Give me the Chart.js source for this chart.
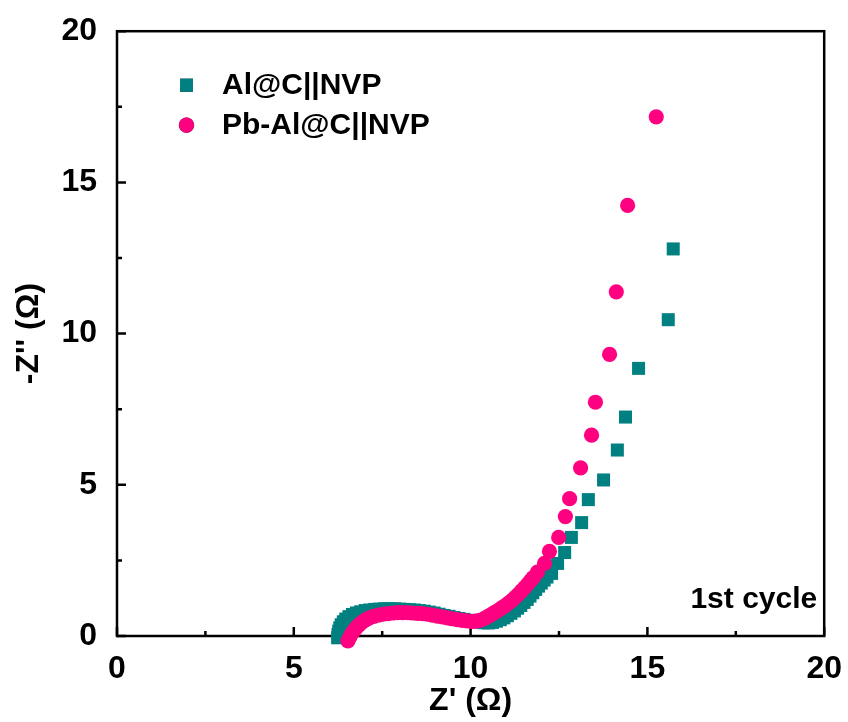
<!DOCTYPE html>
<html>
<head>
<meta charset="utf-8">
<script src="https://cdn.jsdelivr.net/npm/chart.js@4.4.0/dist/chart.umd.min.js"></script>
<style>
html, body { margin: 0; padding: 0; background: #fff; }
#wrap { width: 848px; height: 722px; }
</style>
</head>
<body>
<div id="wrap"><canvas id="eis" width="848" height="722"></canvas></div>
<script>
// series (Z' and -Z'' in ohm)
const seriesNames = ['Al@C||NVP', 'Pb-Al@C||NVP'];

const alX = [6.24, 6.25, 6.27, 6.30, 6.34, 6.40, 6.47, 6.56, 6.66, 6.77, 6.89, 7.02, 7.15, 7.29, 7.43,
  7.57, 7.71, 7.85, 7.99, 8.13, 8.27, 8.41, 8.55, 8.69, 8.83, 8.97, 9.11, 9.25, 9.39, 9.53,
  9.67, 9.81, 9.95, 10.09, 10.23, 10.37, 10.50, 10.62, 10.73, 10.84, 10.94, 11.04, 11.14, 11.24, 11.33,
  11.42, 11.51, 11.60, 11.68, 11.76, 11.84, 11.92, 12.00, 12.08, 12.16,
  12.29, 12.46, 12.66, 12.85, 13.14, 13.33, 13.76, 14.15, 14.38, 14.75, 15.59, 15.73];
const alY = [-0.06, 0.05, 0.16, 0.27, 0.37, 0.47, 0.56, 0.64, 0.71, 0.76, 0.80, 0.84, 0.86, 0.88, 0.89,
  0.90, 0.90, 0.90, 0.89, 0.88, 0.87, 0.86, 0.84, 0.82, 0.79, 0.76, 0.72, 0.68, 0.65, 0.61,
  0.58, 0.55, 0.52, 0.49, 0.46, 0.44, 0.43, 0.45, 0.49, 0.54, 0.60, 0.67, 0.75, 0.83, 0.92,
  1.01, 1.11, 1.21, 1.32, 1.43, 1.54, 1.65, 1.75, 1.85, 1.95,
  2.07, 2.40, 2.76, 3.26, 3.75, 4.51, 5.16, 6.15, 7.24, 8.85, 10.46, 12.80];

const pbX = [6.53, 6.58, 6.63, 6.69, 6.76, 6.84, 6.93, 7.03, 7.14, 7.26, 7.39, 7.52, 7.66, 7.80, 7.94,
  8.08, 8.22, 8.36, 8.50, 8.64, 8.78, 8.92, 9.06, 9.20, 9.34, 9.48, 9.62, 9.76, 9.90, 10.03,
  10.15, 10.26, 10.37, 10.47, 10.57, 10.67, 10.77, 10.87, 10.97, 11.07, 11.17, 11.26, 11.35, 11.44, 11.53,
  11.61, 11.69, 11.77,
  11.89, 12.09, 12.23, 12.49, 12.68, 12.80, 13.11, 13.42, 13.53, 13.93, 14.12, 14.44, 15.25];
const pbY = [-0.16, -0.05, 0.06, 0.16, 0.26, 0.36, 0.45, 0.53, 0.60, 0.65, 0.69, 0.72, 0.74, 0.76, 0.77,
  0.77, 0.77, 0.76, 0.75, 0.74, 0.72, 0.69, 0.66, 0.63, 0.60, 0.57, 0.54, 0.52, 0.50, 0.48,
  0.49, 0.52, 0.57, 0.63, 0.70, 0.77, 0.84, 0.92, 1.00, 1.09, 1.18, 1.28, 1.38, 1.49, 1.60,
  1.71, 1.82, 1.93,
  2.11, 2.40, 2.80, 3.26, 3.95, 4.54, 5.56, 6.64, 7.73, 9.31, 11.38, 14.24, 17.17];

const xTicks = [0, 5, 10, 15, 20];
const yTicks = [0, 5, 10, 15, 20];
const minorTicks = [2.5, 7.5, 12.5, 17.5];
const noteText = '1st cycle';

const fam = '"Liberation Sans", Arial, sans-serif';
const tickFont = { family: fam, size: 32, weight: 'bold' };

function pairs(xs, ys) {
  return xs.map((x, i) => ({ x: x, y: ys[i] }));
}

// frame + inward ticks, drawn under the markers
const framePlugin = {
  id: 'frame',
  beforeDatasetsDraw(chart) {
    const { ctx, chartArea: a, scales: { x, y } } = chart;
    ctx.save();
    ctx.strokeStyle = '#000';
    ctx.lineWidth = 2.5;
    ctx.strokeRect(a.left, a.top, a.right - a.left, a.bottom - a.top);
    ctx.beginPath();
    xTicks.forEach(v => { const p = x.getPixelForValue(v); ctx.moveTo(p, a.bottom); ctx.lineTo(p, a.bottom - 9); });
    minorTicks.forEach(v => { const p = x.getPixelForValue(v); ctx.moveTo(p, a.bottom); ctx.lineTo(p, a.bottom - 5); });
    yTicks.forEach(v => { const p = y.getPixelForValue(v); ctx.moveTo(a.left, p); ctx.lineTo(a.left + 9, p); });
    minorTicks.forEach(v => { const p = y.getPixelForValue(v); ctx.moveTo(a.left, p); ctx.lineTo(a.left + 5, p); });
    ctx.stroke();
    ctx.restore();
  }
};

// legend box in the upper left and the cycle note
const notePlugin = {
  id: 'note',
  afterDraw(chart) {
    const { ctx, chartArea: a } = chart;
    ctx.save();
    ctx.font = 'bold 30px ' + fam;
    ctx.fillStyle = '#000';
    ctx.textBaseline = 'middle';
    chart.data.datasets.forEach((ds, i) => {
      const cy = a.top + 54 + i * 40;
      Chart.helpers.drawPoint(ctx, {
        pointStyle: ds.pointStyle, radius: ds.pointRadius, rotation: 0, borderWidth: 0
      }, a.left + 69.5, cy);
      ctx.fillStyle = ds.backgroundColor;
      ctx.fill();
      ctx.fillStyle = '#000';
      ctx.fillText(ds.label, a.left + 105, cy + 1);
    });
    ctx.textAlign = 'right';
    ctx.textBaseline = 'alphabetic';
    ctx.fillText(noteText, a.right - 7, a.bottom - 28);
    ctx.restore();
  }
};

new Chart(document.getElementById('eis'), {
  type: 'scatter',
  data: {
    datasets: [
      {
        label: seriesNames[0], data: pairs(alX, alY),
        pointStyle: 'rect', pointRadius: 9.2, backgroundColor: '#008080',
        borderWidth: 0, clip: false, order: 1
      },
      {
        label: seriesNames[1], data: pairs(pbX, pbY),
        pointStyle: 'circle', pointRadius: 7.6, backgroundColor: '#FF0080',
        borderWidth: 0, clip: false, order: 0
      }
    ]
  },
  options: {
    responsive: false,
    animation: false,
    devicePixelRatio: 1,
    layout: { padding: { top: 28, right: 23, left: 0, bottom: 0 } },
    plugins: { legend: { display: false }, tooltip: { enabled: false } },
    elements: { point: { hoverRadius: 0 } },
    scales: {
      x: {
        type: 'linear', min: 0, max: 20,
        grid: { display: false }, border: { display: false },
        afterBuildTicks: s => { s.ticks = xTicks.map(v => ({ value: v })); },
        afterFit: s => { s.height = 86; },
        ticks: { font: tickFont, color: '#000', padding: 6, maxRotation: 0, autoSkip: false },
        title: { display: true, text: "Z' (\u03A9)", font: tickFont, color: '#000', padding: { top: 0, bottom: 2 } }
      },
      y: {
        type: 'linear', min: 0, max: 20,
        grid: { display: false }, border: { display: false },
        afterBuildTicks: s => { s.ticks = yTicks.map(v => ({ value: v })); },
        afterFit: s => { s.width = 117; },
        ticks: { font: tickFont, color: '#000', padding: 12 },
        title: { display: true, text: "-Z'' (\u03A9)", font: tickFont, color: '#000', padding: { top: 10, bottom: 0 } }
      }
    }
  },
  plugins: [framePlugin, notePlugin]
});
</script>
</body>
</html>
